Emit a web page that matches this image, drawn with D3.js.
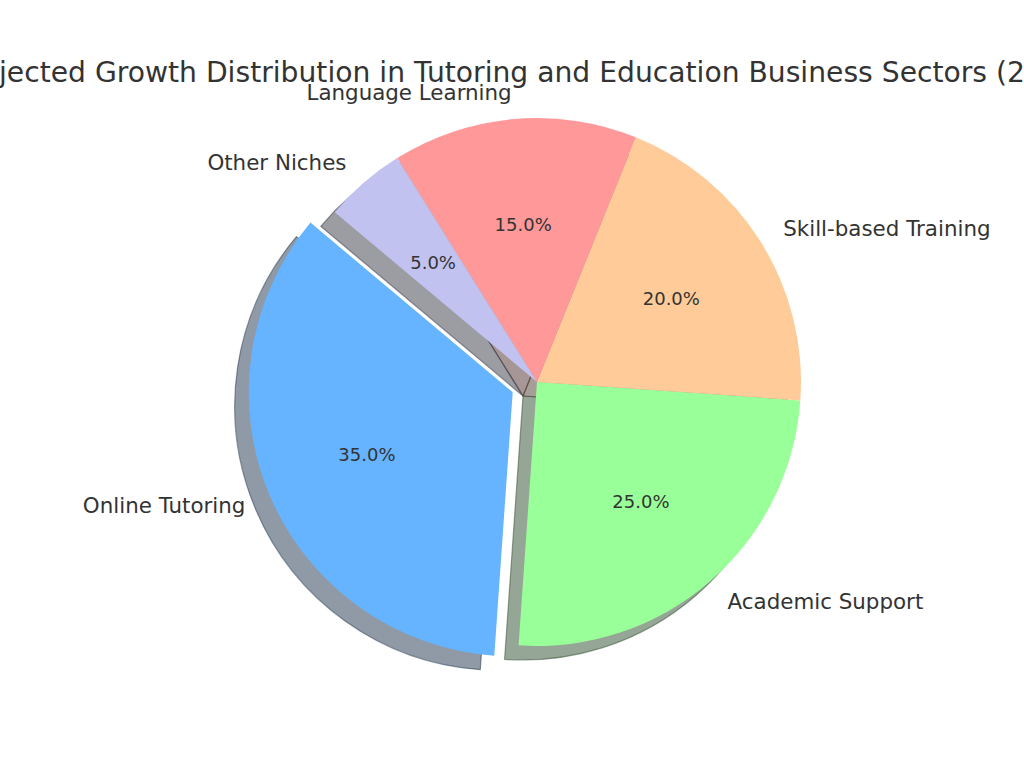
<!DOCTYPE html>
<html>
<head>
<meta charset="utf-8">
<script src="https://cdn.jsdelivr.net/npm/d3@7"></script>
<style>
  html, body { margin: 0; padding: 0; background: #ffffff; }
  svg { display: block; }
</style>
</head>
<body>
<svg id="chart" width="1024" height="768"></svg>
<script>
const title = "Projected Growth Distribution in Tutoring and Education Business Sectors (2024)";
const categories = ["Online Tutoring", "Academic Support", "Skill-based Training", "Language Learning", "Other Niches"];
const values = [35, 25, 20, 15, 5];
const colors = ["#66b3ff", "#99ff99", "#ffcc99", "#ff9999", "#c2c2f0"];
const explode = [0.1, 0, 0, 0, 0];
const startAngleDeg = 140;

const W = 1024, H = 768;
const cx = 537, cy = 382, R = 264;
const shadowDx = -14, shadowDy = 14;
const textColor = "#333333";
const font = "'DejaVu Sans', Verdana, sans-serif";

const svg = d3.select("#chart");

const data = categories.map((c, i) => ({ label: c, value: values[i], color: colors[i], explode: explode[i] }));

// matplotlib: counterclockwise from startangle (measured from +x). D3: clockwise from 12 o'clock.
const a0 = (90 - startAngleDeg) * Math.PI / 180;
const pie = d3.pie().sort(null).value(d => d.value).startAngle(a0).endAngle(a0 - 2 * Math.PI);
const arcs = pie(data);
const arc = d3.arc().innerRadius(0).outerRadius(R);

arcs.forEach(a => {
  const mid = (a.startAngle + a.endAngle) / 2;
  a.mid = mid;
  a.ox = Math.sin(mid) * a.data.explode * R;
  a.oy = -Math.cos(mid) * a.data.explode * R;
});

function darken(c) {
  const col = d3.rgb(c);
  return d3.rgb(col.r * 0.3, col.g * 0.3, col.b * 0.3).toString();
}

const g = svg.append("g").attr("transform", `translate(${cx},${cy})`);

// shadows
g.selectAll("path.shadow").data(arcs).join("path")
  .attr("class", "shadow")
  .attr("d", arc)
  .attr("transform", d => `translate(${d.ox + shadowDx},${d.oy + shadowDy})`)
  .attr("fill", d => darken(d.data.color))
  .attr("fill-opacity", 0.5)
  .attr("stroke", d => darken(d.data.color))
  .attr("stroke-opacity", 0.5)
  .attr("stroke-width", 1.2)
  .attr("stroke-linejoin", "round");

// wedges
g.selectAll("path.wedge").data(arcs).join("path")
  .attr("class", "wedge")
  .attr("d", arc)
  .attr("transform", d => `translate(${d.ox},${d.oy})`)
  .attr("fill", d => d.data.color);

// percentage labels
const total = d3.sum(values);
g.selectAll("text.pct").data(arcs).join("text")
  .attr("class", "pct")
  .attr("x", d => d.ox + Math.sin(d.mid) * 0.6 * R)
  .attr("y", d => d.oy - Math.cos(d.mid) * 0.6 * R)
  .attr("text-anchor", "middle")
  .attr("dominant-baseline", "central")
  .attr("font-family", font)
  .attr("font-size", 18)
  .attr("fill", textColor)
  .text(d => (d.data.value / total * 100).toFixed(1) + "%");

// category labels
g.selectAll("text.lbl").data(arcs).join("text")
  .attr("class", "lbl")
  .attr("x", d => d.ox + Math.sin(d.mid) * 1.1 * R)
  .attr("y", d => d.oy - Math.cos(d.mid) * 1.1 * R)
  .attr("text-anchor", d => Math.sin(d.mid) > 0 ? "start" : "end")
  .attr("dominant-baseline", "central")
  .attr("font-family", font)
  .attr("font-size", 21.4)
  .attr("fill", textColor)
  .text(d => d.data.label);

// title
svg.append("text")
  .attr("x", 522)
  .attr("y", 82)
  .attr("text-anchor", "middle")
  .attr("font-family", font)
  .attr("font-size", 28.2)
  .attr("fill", textColor)
  .text(title);
</script>
</body>
</html>
